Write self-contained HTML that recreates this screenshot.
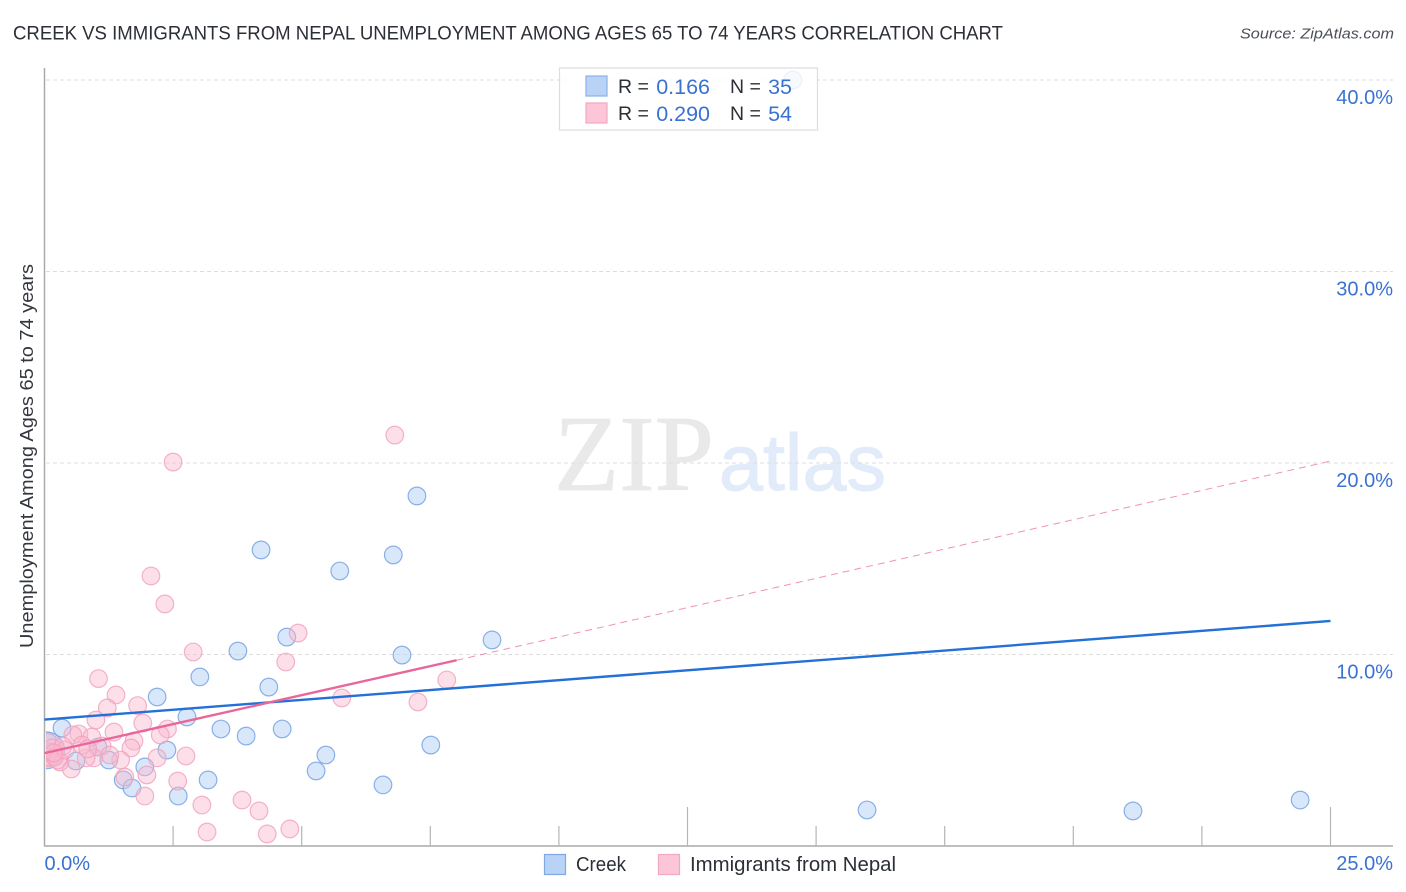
<!DOCTYPE html>
<html lang="en">
<head>
<meta charset="utf-8">
<title>Creek vs Immigrants from Nepal Unemployment Correlation Chart</title>
<style>
html,body{margin:0;padding:0;background:#fff;width:1406px;height:892px;overflow:hidden}
svg{display:block;font-family:"Liberation Sans",sans-serif}
</style>
</head>
<body>
<svg id="chart" width="1406" height="892" viewBox="0 0 1406 892" xmlns="http://www.w3.org/2000/svg">
  <defs><clipPath id="plot-clip"><rect x="46" y="60" width="1348" height="786"/></clipPath></defs>
  <text x="13" y="39.5" font-size="19.5" fill="#2b2f36" textLength="990" lengthAdjust="spacingAndGlyphs">CREEK VS IMMIGRANTS FROM NEPAL UNEMPLOYMENT AMONG AGES 65 TO 74 YEARS CORRELATION CHART</text>
  <text x="1394" y="38.5" font-size="15" font-style="italic" fill="#4a4f57" text-anchor="end" textLength="154" lengthAdjust="spacingAndGlyphs">Source: ZipAtlas.com</text>
  <text x="554" y="490" font-family="'Liberation Serif',serif" font-size="108" fill="#e9e9e9" stroke="#e9e9e9" stroke-width="0.8" textLength="160" lengthAdjust="spacingAndGlyphs">ZIP</text>
  <text x="719" y="490" font-size="80" fill="#e2ebf9" stroke="#e2ebf9" stroke-width="1" textLength="167" lengthAdjust="spacingAndGlyphs">atlas</text>
  <g id="grid"></g>
  <line x1="44.5" y1="68" x2="44.5" y2="846" stroke="#aaaaaa" stroke-width="1.5"/>
  <line x1="44" y1="846" x2="1393" y2="846" stroke="#aaaaaa" stroke-width="1.5"/>
  <g id="ticks"></g>
  <g id="points" clip-path="url(#plot-clip)"></g>
  <g id="trends"></g>
  <g id="labels"></g>
  <text transform="translate(33,456) rotate(-90)" font-size="18.5" fill="#33373d" text-anchor="middle" textLength="384" lengthAdjust="spacingAndGlyphs">Unemployment Among Ages 65 to 74 years</text>

  <g>
    <rect x="559.5" y="68" width="258" height="62" fill="#ffffff" fill-opacity="0.82" stroke="#dddddd" stroke-width="1.2"/>
    <rect x="586" y="76" width="21" height="20" fill="#b9d3f6" stroke="#8ab0e8" stroke-width="1.2"/>
    <rect x="586" y="103" width="21" height="20" fill="#fcc6d8" stroke="#f3a8c1" stroke-width="1.2"/>
    <text x="618" y="93" font-size="19.5" fill="#2b2f36">R =</text>
    <text x="710" y="94" font-size="21.5" fill="#3a72d2" text-anchor="end">0.166</text>
    <text x="730" y="93" font-size="19.5" fill="#2b2f36">N =</text>
    <text x="792" y="94" font-size="21.5" fill="#3a72d2" text-anchor="end">35</text>
    <text x="618" y="120" font-size="19.5" fill="#2b2f36">R =</text>
    <text x="710" y="121" font-size="21.5" fill="#3a72d2" text-anchor="end">0.290</text>
    <text x="730" y="120" font-size="19.5" fill="#2b2f36">N =</text>
    <text x="792" y="121" font-size="21.5" fill="#3a72d2" text-anchor="end">54</text>
  </g>

  <g>
    <rect x="544.5" y="854.5" width="21" height="20" fill="#b9d3f6" stroke="#7fa9e0" stroke-width="1.2"/>
    <text x="576" y="871" font-size="20" fill="#2b2f36" textLength="50" lengthAdjust="spacingAndGlyphs">Creek</text>
    <rect x="658.5" y="854.5" width="21" height="20" fill="#fcc6d8" stroke="#f3a8c1" stroke-width="1.2"/>
    <text x="690" y="871" font-size="20" fill="#2b2f36" textLength="206" lengthAdjust="spacingAndGlyphs">Immigrants from Nepal</text>
  </g>
</svg>
<script>
var yTickValues = [10, 20, 30, 40];
var yTickLabels = ["10.0%", "20.0%", "30.0%", "40.0%"];
var xMinorTicks = [2.5, 5, 7.5, 10, 15, 17.5, 20, 22.5];
var xMajorTicks = [12.5, 25];
var xEndValues = [0, 25];
var xEndLabels = ["0.0%", "25.0%"];

var creekX = [14.55, 7.24, 4.21, 6.78, 5.74, 8.7, 4.71, 3.76, 6.95, 3.02, 4.36, 2.19, 2.77, 0.34, 3.43, 4.62, 3.92, 7.51, 2.38, 5.47, 0.05, 1.04, 1.25, 0.61, 5.28, 1.95, 1.53, 3.18, 1.7, 6.58, 2.6, 15.99, 21.16, 24.41, 0.03];
var creekY = [40.0, 18.28, 15.46, 15.2, 14.36, 10.76, 10.91, 10.18, 9.97, 8.83, 8.3, 7.78, 6.74, 6.16, 6.11, 6.11, 5.74, 5.27, 5.01, 4.75, 5.48, 5.17, 4.49, 4.44, 3.92, 4.13, 3.45, 3.45, 3.03, 3.19, 2.61, 1.88, 1.83, 2.4, 5.0];
var creekBubbleSize = [1, 1, 1, 1, 1, 1, 1, 1, 1, 1, 1, 1, 1, 1, 1, 1, 1, 1, 1, 1, 1, 1, 1, 1, 1, 1, 1, 1, 1, 1, 1, 1, 1, 1, 4.4];

var nepalX = [2.5, 6.81, 2.07, 2.34, 4.93, 2.89, 4.69, 5.78, 7.26, 7.82, 1.05, 1.39, 1.22, 1.81, 1.0, 1.91, 2.39, 2.25, 1.35, 1.74, 1.68, 2.19, 2.75, 2.59, 1.99, 1.95, 3.06, 3.84, 4.17, 3.16, 4.33, 4.77, 1.56, 1.48, 0.67, 0.55, 0.92, 1.12, 1.27, 0.96, 0.81, 0.52, 0.3, 0.03, 0.05, 0.11, 0.15, 0.2, 0.26, 0.4, 0.73, 0.84, 0.36, 0.18];
var nepalY = [20.05, 21.46, 14.1, 12.64, 11.12, 10.13, 9.61, 7.73, 7.52, 8.67, 8.74, 7.89, 7.21, 7.33, 6.58, 6.42, 6.11, 5.8, 5.95, 5.48, 5.12, 4.6, 4.7, 3.39, 3.71, 2.61, 2.14, 2.4, 1.83, 0.73, 0.63, 0.89, 3.6, 4.49, 5.85, 5.8, 5.69, 5.22, 4.75, 4.6, 4.6, 4.02, 4.39, 5.0, 4.65, 4.91, 5.12, 4.65, 4.49, 5.01, 5.27, 5.07, 5.22, 4.86];
var nepalBubbleSize = [1, 1, 1, 1, 1, 1, 1, 1, 1, 1, 1, 1, 1, 1, 1, 1, 1, 1, 1, 1, 1, 1, 1, 1, 1, 1, 1, 1, 1, 1, 1, 1, 1, 1, 1, 1, 1, 1, 1, 1, 1, 1, 1, 3.6, 1, 1, 1, 1, 1, 1, 1, 1, 1, 1];

var creekTrendX = [0, 25];
var creekTrendY = [6.6, 11.75];
var nepalSolidX = [0, 8.01];
var nepalSolidY = [4.85, 9.7];
var nepalDashX = [8.01, 25];
var nepalDashY = [9.7, 20.1];

var NS = "http://www.w3.org/2000/svg";
function sx(v) { return 44.5 + v * 51.44; }
function sy(v) { return 846 - v * 19.15; }
function sr(v) { return 8.8 * Math.sqrt(v); }
function make(tag, attrs, parent) {
  var el = document.createElementNS(NS, tag);
  for (var k in attrs) el.setAttribute(k, attrs[k]);
  parent.appendChild(el);
  return el;
}
var grid = document.getElementById("grid");
var ticks = document.getElementById("ticks");
var pointsG = document.getElementById("points");
var trends = document.getElementById("trends");
var labels = document.getElementById("labels");

yTickValues.forEach(function (v, i) {
  var g = make("line", {x1: 46, x2: 1393, y1: sy(v), y2: sy(v), stroke: "#dddddd", "stroke-width": 1, "stroke-dasharray": "4 3"}, grid);
  
  
  var t = make("text", {x: 1393, y: sy(v) + 24, "font-size": 20, fill: "#3a72d2", "text-anchor": "end"}, labels);
  t.textContent = yTickLabels[i];
  
  
});
xMinorTicks.forEach(function (v) {
  var l = make("line", {x1: sx(v), x2: sx(v), y1: 826, y2: 846, stroke: "#b5b5b5", "stroke-width": 1.2}, ticks);
  
  
});
xMajorTicks.forEach(function (v) {
  var l = make("line", {x1: sx(v), x2: sx(v), y1: 807, y2: 846, stroke: "#b5b5b5", "stroke-width": 1.2}, ticks);
  
  
});
xEndValues.forEach(function (v, i) {
  var t = make("text", {x: i === 0 ? sx(v) : 1393, y: 870, "font-size": 20, fill: "#3a72d2", "text-anchor": i === 0 ? "start" : "end"}, labels);
  t.textContent = xEndLabels[i];
  
  
});
function drawSeries(xs, ys, sizes, fill, stroke, fillOp, name) {
  xs.forEach(function (x, i) {
    var c = make("circle", {cx: sx(x), cy: sy(ys[i]), r: sr(sizes[i]), fill: fill, "fill-opacity": fillOp, stroke: stroke, "stroke-opacity": 0.8, "stroke-width": 1.2}, pointsG);
    
    
  });
}
drawSeries(creekX, creekY, creekBubbleSize, "#b9d3f6", "#6f9fe2", 0.55, "creek-point");
drawSeries(nepalX, nepalY, nepalBubbleSize, "#fab9cf", "#f0a0bc", 0.45, "nepal-point");
function drawLine(xs, ys, attrs, name) {
  var a = {x1: sx(xs[0]), y1: sy(ys[0]), x2: sx(xs[1]), y2: sy(ys[1])};
  for (var k in attrs) a[k] = attrs[k];
  var l = make("line", a, trends);
  
  
}
drawLine(nepalDashX, nepalDashY, {stroke: "#ea6f9b", "stroke-width": 1, "stroke-dasharray": "7 5", "stroke-opacity": 0.75}, "nepal-trend-extension");
drawLine(creekTrendX, creekTrendY, {stroke: "#2370d6", "stroke-width": 2.4}, "creek-trend-line");
drawLine(nepalSolidX, nepalSolidY, {stroke: "#e8669a", "stroke-width": 2.4}, "nepal-trend-line");
</script>
</body>
</html>
